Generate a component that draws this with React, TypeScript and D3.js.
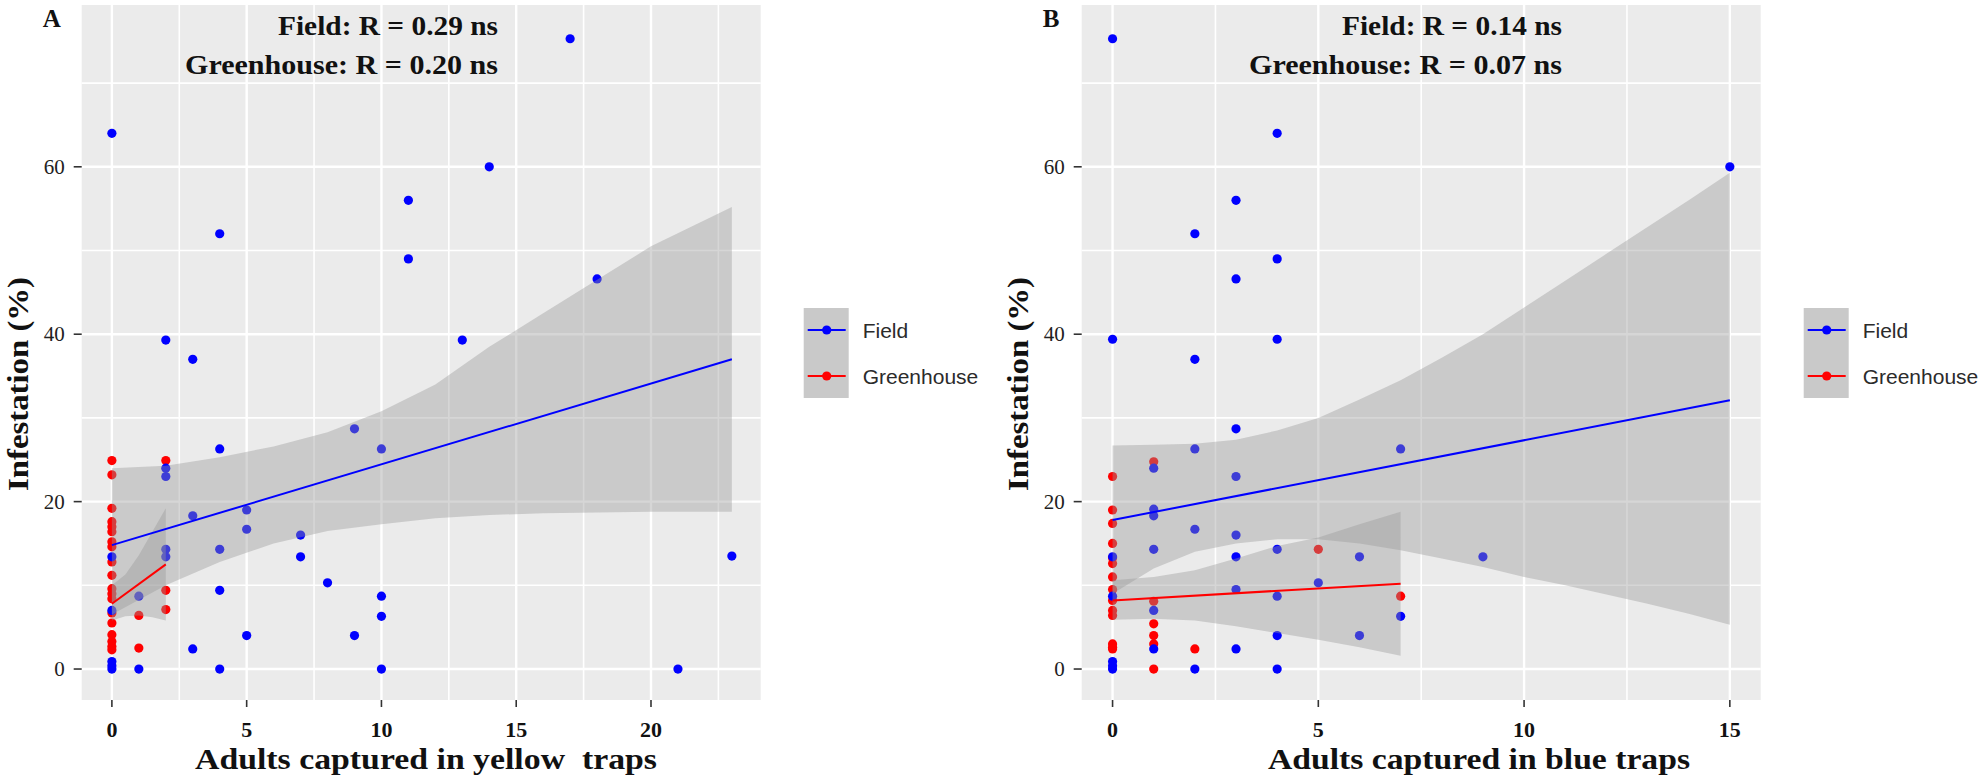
import * as d3 from "d3";
import React, { useEffect, useRef } from "react";

type Pt = [number, number];
type Band = [number, number, number]; // x, lower, upper

// ---- panel A: yellow traps ----
const yellowField: Pt[] = [
  [0, 64.0], [0, 13.4], [0, 7.0], [0, 0.9], [0, 0.4], [0, 0],
  [1, 8.7], [1, 0],
  [2, 39.3], [2, 24.0], [2, 23.0], [2, 14.3], [2, 13.4],
  [3, 37.0], [3, 18.3], [3, 2.4],
  [4, 52.0], [4, 26.3], [4, 14.3], [4, 9.4], [4, 0],
  [5, 19.0], [5, 16.7], [5, 4.0],
  [7, 16.0], [7, 13.4],
  [8, 10.3],
  [9, 28.7], [9, 4.0],
  [10, 26.3], [10, 8.7], [10, 6.3], [10, 0],
  [11, 56.0], [11, 49.0],
  [13, 39.3],
  [14, 60.0],
  [17, 75.3],
  [18, 46.6],
  [21, 0],
  [23, 13.5],
];
const yellowGreenhouse: Pt[] = [
  [0, 24.9], [0, 23.2], [0, 19.2], [0, 17.6], [0, 17.0], [0, 16.4], [0, 15.2], [0, 14.6],
  [0, 12.8], [0, 11.2], [0, 9.6], [0, 9.0], [0, 8.4], [0, 6.7], [0, 5.5], [0, 4.1],
  [0, 3.3], [0, 2.7], [0, 2.3],
  [1, 6.4], [1, 2.5],
  [2, 24.9], [2, 9.4], [2, 7.1],
];
const yellowFieldFit: Pt[] = [[0, 14.8], [23, 37.0]];
const yellowGreenhouseFit: Pt[] = [[0, 7.8], [2, 12.5]];
const yellowFieldBand: Band[] = [
  [0, 6.5, 24.0], [2, 10.0, 24.3], [4, 12.8, 25.3], [6, 15.0, 26.6], [8, 16.5, 28.3],
  [10, 17.3, 30.8], [12, 18.0, 34.0], [14, 18.4, 38.5], [16, 18.6, 42.5], [18, 18.7, 46.5],
  [20, 18.8, 50.5], [23, 18.8, 55.2],
];
const yellowGreenhouseBand: Band[] = [
  [0, 5.8, 10.0], [0.5, 6.3, 11.3], [1, 6.4, 13.6], [1.5, 6.2, 16.4], [2, 5.8, 19.2],
];
const yellowTicks = [0, 5, 10, 15, 20];

// ---- panel B: blue traps ----
const blueField: Pt[] = [
  [0, 75.3], [0, 39.4], [0, 13.4], [0, 8.7], [0, 0.9], [0, 0.4], [0, 0],
  [1, 24.0], [1, 19.1], [1, 18.3], [1, 14.3], [1, 7.0], [1, 2.4],
  [2, 52.0], [2, 37.0], [2, 26.3], [2, 16.7], [2, 0],
  [3, 56.0], [3, 46.6], [3, 28.7], [3, 23.0], [3, 16.0], [3, 13.4], [3, 9.5], [3, 2.4],
  [4, 64.0], [4, 49.0], [4, 39.4], [4, 14.3], [4, 8.7], [4, 4.0], [4, 0],
  [5, 10.3],
  [6, 13.4], [6, 4.0],
  [7, 26.3], [7, 6.3],
  [9, 13.4],
  [15, 60.0],
];
const blueGreenhouse: Pt[] = [
  [0, 23.0], [0, 19.0], [0, 17.4], [0, 15.0], [0, 13.3], [0, 12.6], [0, 11.0], [0, 9.5],
  [0, 8.2], [0, 7.0], [0, 6.4], [0, 3.0], [0, 2.6], [0, 2.4],
  [1, 24.75], [1, 8.1], [1, 5.4], [1, 4.0], [1, 3.0], [1, 0],
  [2, 2.4],
  [5, 14.3],
  [7, 8.7],
];
const blueFieldFit: Pt[] = [[0, 17.8], [15, 32.1]];
const blueGreenhouseFit: Pt[] = [[0, 8.2], [7, 10.2]];
const blueFieldBand: Band[] = [
  [0, 9.0, 26.7], [1, 12.0, 26.8], [2, 14.0, 26.9], [3, 15.0, 27.4], [4, 15.5, 28.5],
  [5, 15.5, 30.0], [6, 15.0, 32.2], [7, 14.2, 34.5], [8, 13.2, 37.2], [9, 12.2, 40.0],
  [10, 11.0, 43.2], [11, 10.0, 46.4], [12, 8.9, 49.6], [13, 7.8, 52.8], [14, 6.6, 56.0],
  [15, 5.3, 59.3],
];
const blueGreenhouseBand: Band[] = [
  [0, 5.9, 10.6], [1, 6.0, 11.0], [2, 5.8, 11.8], [3, 5.1, 13.2], [4, 4.3, 14.7],
  [5, 3.5, 15.7], [6, 2.6, 17.3], [7, 1.6, 18.8],
];
const blueTicks = [0, 5, 10, 15];

// ---- shared ----
const yTicks = [0, 20, 40, 60];
const seriesNames = ["Field", "Greenhouse"];
const seriesColors = ["#0000ff", "#ff0000"];

const SERIF = "'Liberation Serif', 'Times New Roman', serif";
const SANS = "'Liberation Sans', Arial, sans-serif";
const TOP = 5;
const BOTTOM = 700;
const Y_DOMAIN: [number, number] = [-3.7, 79.33];

type PanelCfg = {
  letter: string;
  left: number;
  right: number;
  xDomain: [number, number];
  ticks: number[];
  field: Pt[];
  greenhouse: Pt[];
  fieldFit: Pt[];
  greenhouseFit: Pt[];
  fieldBand: Band[];
  greenhouseBand: Band[];
  rField: string;
  rGreenhouse: string;
  annotEnd: number;
  xTitle: string;
  xTitleCenter: number;
  xTitleLen: number;
};

const panels: PanelCfg[] = [
  {
    letter: "A", left: 81.7, right: 760.7, xDomain: [-1.12, 24.07], ticks: yellowTicks,
    field: yellowField, greenhouse: yellowGreenhouse,
    fieldFit: yellowFieldFit, greenhouseFit: yellowGreenhouseFit,
    fieldBand: yellowFieldBand, greenhouseBand: yellowGreenhouseBand,
    rField: "Field: R = 0.29 ns", rGreenhouse: "Greenhouse: R = 0.20 ns", annotEnd: 498,
    xTitle: "Adults captured in yellow\u00a0 traps", xTitleCenter: 426, xTitleLen: 462,
  },
  {
    letter: "B", left: 1081.7, right: 1760.7, xDomain: [-0.75, 15.75], ticks: blueTicks,
    field: blueField, greenhouse: blueGreenhouse,
    fieldFit: blueFieldFit, greenhouseFit: blueGreenhouseFit,
    fieldBand: blueFieldBand, greenhouseBand: blueGreenhouseBand,
    rField: "Field: R = 0.14 ns", rGreenhouse: "Greenhouse: R = 0.07 ns", annotEnd: 1562,
    xTitle: "Adults captured in blue traps", xTitleCenter: 1479, xTitleLen: 422,
  },
];

function drawPanel(root: d3.Selection<SVGSVGElement, unknown, null, undefined>, p: PanelCfg) {
  const x = d3.scaleLinear().domain(p.xDomain).range([p.left, p.right]);
  const y = d3.scaleLinear().domain(Y_DOMAIN).range([BOTTOM, TOP]);
  const g = root.append("g");

  // panel background
  g.append("rect")
    .attr("x", p.left).attr("y", TOP)
    .attr("width", p.right - p.left).attr("height", BOTTOM - TOP)
    .attr("fill", "#ebebeb");

  // grid
  const xMinor = d3.range(2.5, p.xDomain[1], 5);
  const yMinor = d3.range(10, Y_DOMAIN[1], 20);
  g.selectAll("line.xminor").data(xMinor).join("line")
    .attr("x1", d => x(d)).attr("x2", d => x(d)).attr("y1", TOP).attr("y2", BOTTOM)
    .attr("stroke", "#fff").attr("stroke-width", 1.6);
  g.selectAll("line.yminor").data(yMinor).join("line")
    .attr("x1", p.left).attr("x2", p.right).attr("y1", d => y(d)).attr("y2", d => y(d))
    .attr("stroke", "#fff").attr("stroke-width", 1.6);
  g.append("g").selectAll("line").data(p.ticks).join("line")
    .attr("x1", d => x(d)).attr("x2", d => x(d)).attr("y1", TOP).attr("y2", BOTTOM)
    .attr("stroke", "#fff").attr("stroke-width", 2.4);
  g.append("g").selectAll("line").data(yTicks).join("line")
    .attr("x1", p.left).attr("x2", p.right).attr("y1", d => y(d)).attr("y2", d => y(d))
    .attr("stroke", "#fff").attr("stroke-width", 2.4);

  // points (greenhouse under field)
  g.append("g").selectAll("circle").data(p.greenhouse).join("circle")
    .attr("cx", d => x(d[0])).attr("cy", d => y(d[1])).attr("r", 4.6)
    .attr("fill", seriesColors[1]);
  g.append("g").selectAll("circle").data(p.field).join("circle")
    .attr("cx", d => x(d[0])).attr("cy", d => y(d[1])).attr("r", 4.6)
    .attr("fill", seriesColors[0]);

  // confidence bands
  const area = d3.area<Band>().x(d => x(d[0])).y0(d => y(d[1])).y1(d => y(d[2]));
  [p.fieldBand, p.greenhouseBand].forEach(b => {
    g.append("path").attr("d", area(b) ?? "").attr("fill", "#999999").attr("opacity", 0.4);
  });

  // fitted lines
  const line = d3.line<Pt>().x(d => x(d[0])).y(d => y(d[1]));
  [p.fieldFit, p.greenhouseFit].forEach((f, i) => {
    g.append("path").attr("d", line(f) ?? "").attr("fill", "none")
      .attr("stroke", seriesColors[i]).attr("stroke-width", 2);
  });

  // axes ticks + labels
  g.append("g").selectAll("line").data(p.ticks).join("line")
    .attr("x1", d => x(d)).attr("x2", d => x(d)).attr("y1", BOTTOM).attr("y2", BOTTOM + 7)
    .attr("stroke", "#333").attr("stroke-width", 1.6);
  g.append("g").selectAll("text").data(p.ticks).join("text")
    .attr("x", d => x(d)).attr("y", 737)
    .attr("text-anchor", "middle").attr("font-family", SERIF).attr("font-weight", "bold")
    .attr("font-size", 22).attr("fill", "#111").text(d => d);
  g.append("g").selectAll("line").data(yTicks).join("line")
    .attr("x1", p.left - 8).attr("x2", p.left).attr("y1", d => y(d)).attr("y2", d => y(d))
    .attr("stroke", "#333").attr("stroke-width", 1.6);
  g.append("g").selectAll("text").data(yTicks).join("text")
    .attr("x", p.left - 17).attr("y", d => y(d) + 7)
    .attr("text-anchor", "end").attr("font-family", SERIF)
    .attr("font-size", 21).attr("fill", "#222").text(d => d);

  // titles
  g.append("text")
    .attr("x", p.xTitleCenter).attr("y", 769)
    .attr("text-anchor", "middle").attr("font-family", SERIF).attr("font-weight", "bold")
    .attr("font-size", 30).attr("textLength", p.xTitleLen).attr("lengthAdjust", "spacingAndGlyphs")
    .attr("fill", "#111").text(p.xTitle);
  g.append("text")
    .attr("transform", `translate(${p.left - 54},384) rotate(-90)`)
    .attr("text-anchor", "middle").attr("font-family", SERIF).attr("font-weight", "bold")
    .attr("font-size", 29).attr("textLength", 214).attr("lengthAdjust", "spacingAndGlyphs")
    .attr("fill", "#111").text("Infestation (%)");
  g.append("text")
    .attr("x", p.left - 39).attr("y", 27)
    .attr("font-family", SERIF).attr("font-weight", "bold").attr("font-size", 25)
    .attr("fill", "#111").text(p.letter);

  // correlation labels
  [[p.rField, 35, 220], [p.rGreenhouse, 74, 313]].forEach(([t, yy, len]) => {
    g.append("text")
      .attr("x", p.annotEnd).attr("y", yy as number)
      .attr("text-anchor", "end").attr("font-family", SERIF).attr("font-weight", "bold")
      .attr("font-size", 27).attr("textLength", len as number).attr("lengthAdjust", "spacingAndGlyphs")
      .attr("fill", "#111").text(t as string);
  });

  // legend
  const lx = p.right + 43;
  const lg = g.append("g");
  lg.append("rect").attr("x", lx).attr("y", 308).attr("width", 45).attr("height", 90)
    .attr("fill", "#c9c9c9");
  seriesNames.forEach((name, i) => {
    const cy = 330 + i * 46;
    lg.append("line").attr("x1", lx + 4).attr("x2", lx + 42).attr("y1", cy).attr("y2", cy)
      .attr("stroke", seriesColors[i]).attr("stroke-width", 2);
    lg.append("circle").attr("cx", lx + 23).attr("cy", cy).attr("r", 4.6)
      .attr("fill", seriesColors[i]);
    lg.append("text").attr("x", lx + 59).attr("y", cy + 8)
      .attr("font-family", SANS).attr("font-size", 21).attr("fill", "#2b2b2b").text(name);
  });
}

export default function App() {
  const svgRef = useRef<SVGSVGElement | null>(null);

  useEffect(() => {
    const svg = d3.select(svgRef.current as SVGSVGElement);
    svg.selectAll("*").remove();
    svg.append("rect").attr("width", 1985).attr("height", 779).attr("fill", "#fff");
    panels.forEach(p => drawPanel(svg, p));
  }, []);

  return (
    <svg
      ref={svgRef}
      width={1985}
      height={779}
      style={{ position: "absolute", left: 0, top: 0, display: "block" }}
    />
  );
}
